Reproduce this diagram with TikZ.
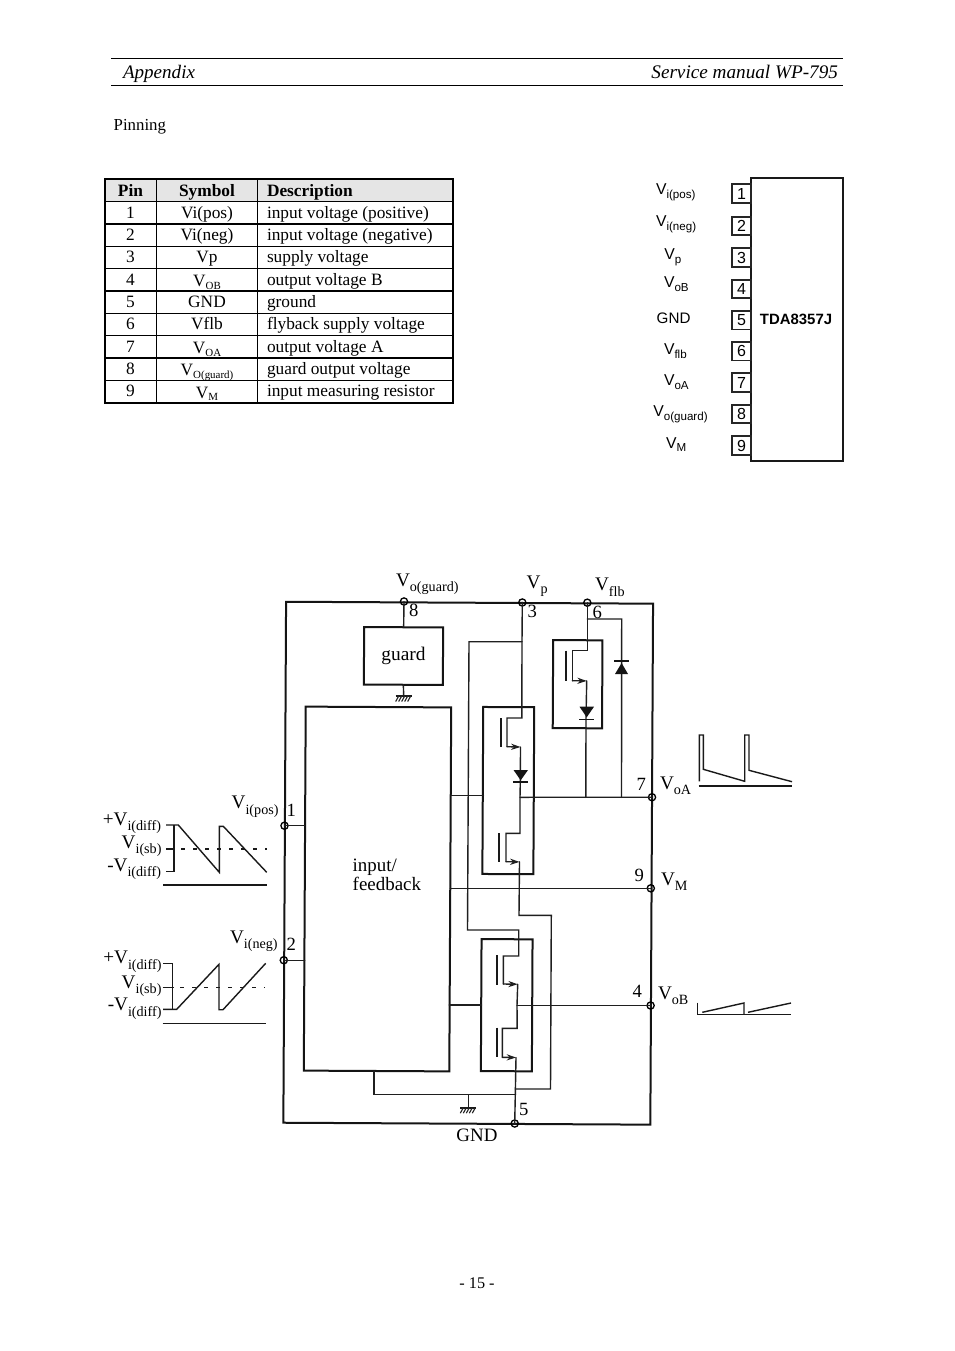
\documentclass[tikz,border=0pt]{standalone}
\usepackage{fontspec}
\setmainfont{Liberation Serif}
\newfontfamily\sansf{Liberation Sans}
\usetikzlibrary{arrows.meta}
% font helpers
\newcommand{\fs}[1]{\fontsize{#1}{#1}\selectfont}
% schematic V with subscript
\newcommand{\VS}[2][V]{\fs{14.4}#1\raisebox{-0.3em}{\fs{10.6}#2}}
% pinout V with subscript
\newcommand{\VP}[1]{\sansf\fs{11.8}V\raisebox{-0.22em}{\fs{8.7}#1}}
% table V with subscript
\newcommand{\VT}[1]{\raisebox{-1.1pt}{V\raisebox{-0.15em}{\fs{8.2}#1}}}
\tikzset{
  wire/.style={line width=1.05pt,draw=black!88,line cap=round,line join=miter},
  blk/.style 2 args={draw=black!92,line width=1.5pt,rectangle,inner sep=0pt,outer sep=0pt,
      minimum width=#1*0.75pt,minimum height=#2*0.75pt,rotate=-0.3},
  pinmark/.style={circle,draw=black,line width=1pt,inner sep=0pt,outer sep=0pt,minimum size=5.4pt},
  lbl/.style={anchor=base west,inner sep=0pt,outer sep=0pt},
  lble/.style={anchor=base east,inner sep=0pt,outer sep=0pt},
  lblc/.style={anchor=base,inner sep=0pt,outer sep=0pt},
  src/.style={-{Stealth[length=7pt,width=4.6pt]}},
  gatebar/.style={line width=1.3pt,draw=black!90},
  wave/.style={line width=1.05pt,draw=black!90,line join=miter},
  pinbox/.style={draw=black!85,line width=1.3pt,rectangle,inner sep=0pt,outer sep=0pt,
      minimum width=14.2pt,minimum height=14pt,font=\sansf\fs{12}},
  tcell/.style={anchor=base,inner sep=0pt,outer sep=0pt,font=\fs{13}},
  tdesc/.style={anchor=base west,inner sep=0pt,outer sep=0pt,font=\fs{13}},
}
\newcommand{\gndsym}[2]{%
  \draw[line width=1.3pt,draw=black!90] ({#1-8},#2) -- ({#1+8},#2);
  \foreach \k in {-5,-2,1,4,7}{\draw[line width=0.85pt,draw=black!85] ({#1+\k},#2) -- ({#1+\k-3},{#2+5.5});}%
}
\newcommand{\trow}[4]{%
  \node[tcell] (tp#1) at (130.5,#2) {#1};
  \node[tcell] (ts#1) at (207,#2) {#3};
  \node[tdesc] (td#1) at (267,#2) {#4};
}
\newcommand{\ppin}[2]{\node[pinbox,anchor=east] (pb#1) at (751,#2) {#1};}
\begin{document}
\begin{tikzpicture}[x=0.75pt,y=-0.75pt]
\useasboundingbox (0,0) rectangle (954,1351);
\fill[white] (0,0) rectangle (954,1351);

% ---------- page header / footer
\coordinate (hl1a) at (111,58.5); \coordinate (hl1b) at (843,58.5);
\coordinate (hl2a) at (111,85.2); \coordinate (hl2b) at (843,85.2);
\draw[line width=0.75pt] (hl1a) -- (hl1b);
\draw[line width=0.75pt] (hl2a) -- (hl2b);
\node[lbl,font=\itshape\fs{14.3}] (happ) at (123,78.5) {Appendix};
\node[lble,font=\itshape\fs{14.4}] (hsm) at (838,78.5) {Service manual WP-795};
\node[lbl,font=\fs{12.6}] (pinning) at (113.7,130.5) {Pinning};
\node[lblc,font=\fs{12.2}] (pageno) at (477,1288) {- 15 -};

% ---------- table
\fill[black!10] (105,179) rectangle (453,201.5);
\foreach \yy in {201.8,224,246.4,268.6,291,313.2,335.6,358,380.6}{\draw[line width=0.8pt] (105,\yy) -- (453,\yy);}
\draw[line width=0.8pt] (156.3,179) -- (156.3,403);
\draw[line width=0.8pt] (257.5,179) -- (257.5,403);
\draw[line width=1.6pt] (105,179) rectangle (453,403);
\node[tcell,font=\bfseries\fs{13}] (th1) at (130.5,196.5) {Pin};
\node[tcell,font=\bfseries\fs{13}] (th2) at (207,196.5) {Symbol};
\node[tdesc,font=\bfseries\fs{13}] (th3) at (267,196.5) {Description};
\trow{1}{218.3}{Vi(pos)}{input voltage (positive)}
\trow{2}{240.6}{Vi(neg)}{input voltage (negative)}
\trow{3}{262.9}{Vp}{supply voltage}
\trow{4}{285.2}{\VT{OB}}{output voltage B}
\trow{5}{307.5}{GND}{ground}
\trow{6}{329.8}{Vflb}{flyback supply voltage}
\trow{7}{352.1}{\VT{OA}}{output voltage A}
\trow{8}{374.4}{\VT{O(guard)}}{guard output voltage}
\trow{9}{396.7}{\VT{M}}{input measuring resistor}

% ---------- pinout IC
\node[draw=black!90,line width=1.4pt,rectangle,inner sep=0pt,outer sep=0pt,
      minimum width=68.8pt,minimum height=212.2pt] (ic) at (796.8,319.2) {};
\node[lblc,font=\sansf\bfseries\fs{11.2}] (icname) at (796,324.3) {TDA8357J};
\ppin{1}{193.6}
\ppin{2}{226}
\ppin{3}{257.5}
\ppin{4}{289}
\ppin{5}{320.2}
\ppin{6}{351.3}
\ppin{7}{382.6}
\ppin{8}{414}
\ppin{9}{445.5}
\node[lbl] (pl1) at (656,195) {\VP{i(pos)}};
\node[lbl] (pl2) at (656,226.7) {\VP{i(neg)}};
\node[lbl] (pl3) at (664.3,260) {\VP{p}};
\node[lbl] (pl4) at (664,287.7) {\VP{oB}};
\node[lbl,font=\sansf\fs{11.4}] (pl5) at (656.7,323.2) {GND};
\node[lbl] (pl6) at (664,355) {\VP{flb}};
\node[lbl] (pl7) at (664,385.7) {\VP{oA}};
\node[lbl] (pl8) at (653.3,416.7) {\VP{o(guard)}};
\node[lbl] (pl9) at (666,448.3) {\VP{M}};

% ---------- schematic blocks
\node[blk={367}{521}] (chip) at (468.2,863.2) {};
\node[blk={79}{57.5},font=\fs{14.5}] (guard) at (403.5,656) {guard};
\node[blk={145.5}{364}] (input) at (377.5,889) {};
\node[blk={51}{167}] (fetA) at (508.3,790.6) {};
\node[blk={51}{132}] (fetB) at (506.7,1005.2) {};
\node[blk={49.3}{88}] (fetC) at (577.6,684.2) {};
\node[lbl,font=\fs{14.2}] (ifa) at (352.7,871) {input/};
\node[lbl,font=\fs{14.2}] (ifb) at (352.7,890.5) {feedback};

% ---------- pin marks
\node[pinmark] (pin8) at (404,601.5) {};
\node[pinmark] (pin3) at (522.3,602.5) {};
\node[pinmark] (pin6) at (587.3,602.7) {};
\node[pinmark] (pin1) at (284.5,825.7) {};
\node[pinmark] (pin2) at (283.8,960.2) {};
\node[pinmark] (pin7) at (652,797.2) {};
\node[pinmark] (pin9) at (650.8,888.3) {};
\node[pinmark] (pin4) at (650.6,1005.5) {};
\node[pinmark] (pin5) at (514.7,1123.5) {};

% ---------- junction coordinates
\coordinate (jA) at (522,641.7);
\coordinate (a1) at (469,641.7);
\coordinate (a2) at (467.5,930);
\coordinate (a3) at (518.7,930);
\coordinate (q1d) at (521.8,718);
\coordinate (q1e) at (507,718);
\coordinate (q1f) at (507,746.7);
\coordinate (q1s) at (520.5,747);
\coordinate (d1k) at (520.3,782);
\coordinate (j7) at (520,797.3);
\coordinate (q2d) at (520,833.3);
\coordinate (q2e) at (506,833.3);
\coordinate (q2f) at (506,861.7);
\coordinate (q2s) at (519.5,861.9);
\coordinate (b1) at (519,915.3);
\coordinate (b2) at (551.3,915.3);
\coordinate (b3) at (550.5,1089);
\coordinate (b4) at (515.3,1089);
\coordinate (q3d) at (518.7,956);
\coordinate (q3e) at (503.3,956);
\coordinate (q3f) at (503.3,984);
\coordinate (q3s) at (517.7,984.2);
\coordinate (j4) at (517,1005.5);
\coordinate (q4d) at (517.2,1028.3);
\coordinate (q4e) at (502.3,1028.3);
\coordinate (q4f) at (502.3,1057.3);
\coordinate (q4s) at (516,1057.5);
\coordinate (g5) at (515.3,1094.7);
\coordinate (g1) at (374,1094.7);
\coordinate (g2) at (468.3,1094.7);
\coordinate (g3) at (468.3,1107.7);
\coordinate (q5d) at (587.3,650.7);
\coordinate (q5e) at (572.3,650.7);
\coordinate (q5f) at (572.3,680.7);
\coordinate (q5s) at (586.7,680.9);
\coordinate (d2k) at (586,719.3);
\coordinate (j7c) at (585.8,797.3);
\coordinate (c1) at (587.3,619);
\coordinate (c2) at (621.7,619);
\coordinate (c3) at (621.5,797.3);
\coordinate (g4) at (403.7,696);

% ---------- wires
\draw[wire] (pin8.center) -- (guard.north);
\draw[wire] (guard.south) -- (g4);
\gndsym{403.7}{696}
\draw[wire] (pin1.center) -- (pin1.center -| input.west);
\draw[wire] (pin2.center) -- (pin2.center -| input.west);
\draw[wire] (pin3.center) -- (jA) -- (q1d) -- (q1e) -- (q1f);
\draw[wire,src] (q1f) -- (q1s);
\draw[wire] (q1s) -- (d1k) -- (j7) -- (q2d) -- (q2e) -- (q2f);
\draw[wire,src] (q2f) -- (q2s);
\draw[wire] (q2s) -- (b1) -- (b2) -- (b3) -- (b4);
\draw[wire] (jA) -- (a1) -- (a2) -- (a3) -- (q3d) -- (q3e) -- (q3f);
\draw[wire,src] (q3f) -- (q3s);
\draw[wire] (q3s) -- (j4) -- (q4d) -- (q4e) -- (q4f);
\draw[wire,src] (q4f) -- (q4s);
\draw[wire] (q4s) -- (g5) -- (pin5.center);
\draw[wire] (pin6.center) -- (c1) -- (q5d) -- (q5e) -- (q5f);
\draw[wire,src] (q5f) -- (q5s);
\draw[wire] (q5s) -- (d2k) -- (j7c);
\draw[wire] (c1) -- (c2) -- (c3);
\draw[wire] (j7) -- (pin7.center);
\draw[wire] (pin9.center) -- (pin9.center -| input.east);
\draw[wire] (j4) -- (pin4.center);
\coordinate (i1) at (450.7,795.3); \coordinate (i2) at (483.4,795.3);
\coordinate (i3) at (449.2,1005); \coordinate (i4) at (481.5,1005);
\draw[wire] (i1) -- (i2);
\draw[wire] (i3) -- (i4);
\coordinate (i5) at (374,1071);
\draw[wire] (i5) -- (g1) -- (g5);
\draw[wire] (g2) -- (g3);
\gndsym{468.3}{1107.7}

% gate bars
\coordinate (gb1a) at (500.7,718); \coordinate (gb1b) at (500.7,746.7);
\coordinate (gb2a) at (499.3,833); \coordinate (gb2b) at (499.3,861.7);
\coordinate (gb3a) at (497.3,955); \coordinate (gb3b) at (497.3,985);
\coordinate (gb4a) at (496.7,1027.7); \coordinate (gb4b) at (496.7,1057.3);
\coordinate (gb5a) at (566,650.7); \coordinate (gb5b) at (566,680.7);
\draw[gatebar] (gb1a) -- (gb1b);
\draw[gatebar] (gb2a) -- (gb2b);
\draw[gatebar] (gb3a) -- (gb3b);
\draw[gatebar] (gb4a) -- (gb4b);
\draw[gatebar] (gb5a) -- (gb5b);

% diodes
\fill[black!92] (513.5,770) -- (528,770) -- (520.7,780.3) -- cycle;
\draw[line width=1.2pt,draw=black!92] (513.3,782) -- (528.3,782);
\fill[black!92] (579.5,706.7) -- (594,706.7) -- (586.7,717.3) -- cycle;
\draw[line width=1.2pt,draw=black!92] (579,719.3) -- (594.3,719.3);
\fill[black!92] (615,674) -- (628,674) -- (621.6,663) -- cycle;
\draw[line width=1.2pt,draw=black!92] (614,661) -- (629,661);

% ---------- schematic labels
\node[lbl] (lg) at (396,586) {\VS{o(guard)}};
\node[lbl] (lp) at (526.7,588) {\VS{p}};
\node[lbl] (lf) at (595,590.7) {\VS{flb}};
\node[lbl,font=\fs{14}] (n8) at (409,616.7) {8};
\node[lbl,font=\fs{14}] (n3) at (527.5,617.7) {3};
\node[lbl,font=\fs{14}] (n6) at (592.5,618.7) {6};
\node[lbl,font=\fs{14}] (n1) at (286.5,816.7) {1};
\node[lbl,font=\fs{14}] (n2) at (286.5,950.7) {2};
\node[lbl,font=\fs{14}] (n7) at (636.5,790) {7};
\node[lbl,font=\fs{14}] (n9) at (634.5,881) {9};
\node[lbl,font=\fs{14}] (n4) at (632.5,997) {4};
\node[lbl,font=\fs{14}] (n5) at (519,1115.5) {5};
\node[lbl] (loa) at (660,789) {\VS{oA}};
\node[lbl] (lm) at (661,885) {\VS{M}};
\node[lbl] (lob) at (658,999) {\VS{oB}};
\node[lblc,font=\fs{14.2}] (lgnd) at (477,1141) {GND};
\node[lbl] (lip) at (231.7,808.3) {\VS{i(pos)}};
\node[lbl] (lin) at (230,943) {\VS{i(neg)}};

\node[lble] (w1a) at (161,825) {\VS[+V]{i(diff)}};
\node[lble] (w1b) at (161.5,848) {\VS{i(sb)}};
\node[lble] (w1c) at (161,871) {\VS[-V]{i(diff)}};
\node[lble] (w2a) at (161.5,963.3) {\VS[+V]{i(diff)}};
\node[lble] (w2b) at (161.5,988) {\VS{i(sb)}};
\node[lble] (w2c) at (161.5,1010.5) {\VS[-V]{i(diff)}};

% ---------- input waveforms
\draw[wave] (166,825) -- (178.3,825) -- (219.3,872.3) -- (219.3,826.3) -- (223.3,826.3) -- (266.7,872.3);
\draw[wave] (174,825) -- (174,871.7) -- (166,871.7);
\draw[wave] (166,849) -- (175,849);
\draw[wave,dash pattern=on 3pt off 6pt] (181,849) -- (266.7,849);
\draw[line width=1.1pt,draw=black!90] (163.3,885) -- (266.7,885);

\draw[wave] (163,963.3) -- (172.3,963.3) -- (172.3,1009.3);
\draw[wave] (163,1009.3) -- (176.7,1009.3) -- (219,964.3) -- (219,1009.7) -- (223,1009.7) -- (265.7,963.3);
\draw[wave] (162.7,987.7) -- (174,987.7);
\draw[wave,dash pattern=on 3pt off 6pt] (180,987.7) -- (265,987.7);
\draw[line width=1.1pt,draw=black!90] (162.7,1023.3) -- (265.7,1023.3);

% ---------- output waveforms
\draw[wave] (699.3,781.3) -- (699.3,735) -- (703.3,735) -- (703.3,769.3) -- (744.7,781.3) -- (744.7,735) -- (749,735) -- (749,770.3) -- (792,781.7);
\draw[line width=1.1pt,draw=black!90] (698.7,786) -- (792,786);
\draw[wave] (697.7,1002.7) -- (697.7,1014.7) -- (791,1014.7);
\draw[wave] (702.3,1012.3) -- (744,1003) -- (744,1014.7);
\draw[wave] (748,1012.3) -- (791,1003);
\end{tikzpicture}
\end{document}
